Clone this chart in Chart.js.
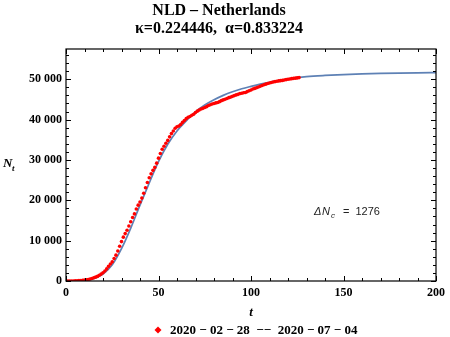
<!DOCTYPE html>
<html><head><meta charset="utf-8">
<script src="https://cdn.jsdelivr.net/npm/chart.js@4"></script>
<style>html,body{margin:0;padding:0;background:#fff}#wrap{width:450px;height:337px;position:relative}</style>
</head><body><div id="wrap"><canvas id="c" width="450" height="337"></canvas></div>
<script>
// ---- data ----
const observedStartT = 0;
const observed = [
 1,1,6,10,18,24,38,82,128,188,265,321,382,503,614,804,959,1135,1413,1705,
 2051,2460,2994,3631,4204,4749,5560,6412,7431,8603,9762,10866,11750,12595,13614,14697,15723,16627,17851,18803,
 19580,20549,21762,23097,24413,25587,26551,27419,28153,29214,30449,31589,32655,33405,34134,34842,35729,36535,37190,37845,
 38245,38416,38802,39316,39791,40236,40571,40770,41087,41319,41774,42093,42382,42627,42788,42984,43211,43481,43681,43870,
 43995,44141,44249,44447,44700,44888,45064,45236,45445,45578,45768,45950,46126,46257,46442,46545,46647,46733,46942,47152,
 47335,47574,47739,47903,48087,48251,48461,48640,48783,48948,49087,49204,49319,49426,49502,49593,49658,49722,49804,49914,
 50005,50074,50147,50223,50273,50335,50412
];
const fitT = [0,5,10,15,20,25,30,35,40,45,50,55,60,65,70,75,80,85,90,95,100,105,110,115,120,125,130,140,150,160,170,180,190,200];
const fitN = [0,15,120,550,1700,4000,8000,13100,18800,24300,29600,33900,37200,39700,41900,43600,44900,46000,46900,47650,48250,48800,49250,49650,50050,50400,50650,50950,51170,51330,51450,51530,51590,51640];
const xTicks = [0,50,100,150,200];
const yTicks = [0,10000,20000,30000,40000,50000];
const xRange = [0,200];
const yRange = [0,57500];
const titleLines = ['NLD \u2013 Netherlands','\u03BA=0.224446,  \u03B1=0.833224'];
const legendText = '2020 \u2212 02 \u2212 28  \u2212\u2212  2020 \u2212 07 \u2212 04';
const annotationText = {delta:'\u0394', n:'N', sub:'c', rest:'=  1276'};
const annotationAt = {t:134, n:17000};

const fmt = v => String(v).replace(/\B(?=(\d{3})+(?!\d))/g,' ');

const framePlugin = {
  id:'frame',
  afterDraw(chart){
    const {ctx, chartArea:a, scales:{x,y}} = chart;
    ctx.save();
    ctx.strokeStyle = '#000';
    ctx.lineWidth = 1.2;
    ctx.strokeRect(a.left, a.top, a.right-a.left, a.bottom-a.top);
    ctx.lineWidth = 1;
    ctx.beginPath();
    for(let v=xRange[0]; v<=xRange[1]; v+=10){
      const major = xTicks.includes(v);
      const L = major?5:3;
      const px = Math.round(x.getPixelForValue(v))+0.5;
      ctx.moveTo(px,a.bottom); ctx.lineTo(px,a.bottom-L);
      ctx.moveTo(px,a.top); ctx.lineTo(px,a.top+L);
    }
    for(let v=0; v<=yRange[1]; v+=2000){
      const major = yTicks.includes(v);
      const L = major?5:3;
      const py = Math.round(y.getPixelForValue(v))+0.5;
      ctx.moveTo(a.left,py); ctx.lineTo(a.left+L,py);
      ctx.moveTo(a.right,py); ctx.lineTo(a.right-L,py);
    }
    ctx.stroke();

    // axis titles
    ctx.fillStyle = '#000';
    ctx.textBaseline = 'alphabetic';
    ctx.textAlign = 'left';
    ctx.font = 'italic bold 13px "Liberation Serif"';
    ctx.fillText('N', 3, 167);
    ctx.font = 'italic bold 9px "Liberation Serif"';
    ctx.fillText('t', 12, 171);
    ctx.font = 'italic bold 13px "Liberation Serif"';
    ctx.textAlign = 'center';
    ctx.fillText('t', (a.left+a.right)/2, 316);

    // legend
    const lx = 158, ly = 330;
    ctx.fillStyle = '#ff0000';
    ctx.beginPath();
    ctx.moveTo(lx, ly-3.5); ctx.lineTo(lx+3.5, ly); ctx.lineTo(lx, ly+3.5); ctx.lineTo(lx-3.5, ly); ctx.closePath();
    ctx.fill();
    ctx.fillStyle = '#000';
    ctx.textAlign = 'left';
    ctx.font = 'bold 13px "Liberation Serif"';
    ctx.fillText(legendText, 170, 334);

    // annotation
    const ax = x.getPixelForValue(annotationAt.t), ay = y.getPixelForValue(annotationAt.n);
    ctx.fillStyle = '#222';
    ctx.font = 'italic 11px "Liberation Sans"';
    ctx.fillText(annotationText.delta, ax, ay+3);
    ctx.fillText(annotationText.n, ax+8, ay+3);
    ctx.font = 'italic 8px "Liberation Sans"';
    ctx.fillText(annotationText.sub, ax+17, ay+6);
    ctx.font = '11px "Liberation Sans"';
    ctx.fillText(annotationText.rest, ax+29, ay+3);
    ctx.restore();
  }
};

new Chart(document.getElementById('c'), {
  type:'scatter',
  data:{datasets:[
    {label:legendText, data: observed.map((v,i)=>({x:observedStartT+i, y:v})),
     pointStyle:'circle', pointRadius:1.8, pointHoverRadius:1.8, backgroundColor:'#ff0000', borderWidth:0, showLine:false},
    {label:'fit', data: fitT.map((t,i)=>({x:t, y:fitN[i]})),
     showLine:true, borderColor:'#5E81B5', borderWidth:1.7, pointRadius:0, cubicInterpolationMode:'monotone', fill:false}
  ]},
  options:{
    responsive:false, animation:false, devicePixelRatio:1,
    layout:{padding:{top:0,right:12,bottom:0,left:0}},
    plugins:{
      legend:{display:false}, tooltip:{enabled:false},
      title:{display:true, text:titleLines, color:'#000',
        font:{family:'Liberation Serif', size:16, weight:'bold', lineHeight:1.125},
        padding:{top:2,bottom:11}}
    },
    scales:{
      x:{type:'linear', min:xRange[0], max:xRange[1],
        afterBuildTicks:s=>{s.ticks = xTicks.map(v=>({value:v}));},
        afterFit:s=>{s.height = 56;},
        grid:{display:false, drawTicks:false}, border:{display:false},
        ticks:{color:'#000', padding:5, maxRotation:0, autoSkip:false,
          font:{family:'Liberation Serif', size:12, weight:'bold'}}},
      y:{type:'linear', min:yRange[0], max:yRange[1],
        afterBuildTicks:s=>{s.ticks = yTicks.map(v=>({value:v}));},
        afterFit:s=>{s.width = 66;},
        grid:{display:false, drawTicks:false}, border:{display:false},
        ticks:{color:'#000', padding:4, autoSkip:false, callback:v=>fmt(v),
          font:{family:'Liberation Serif', size:12, weight:'bold'}}}
    }
  },
  plugins:[framePlugin]
});
</script></body></html>
